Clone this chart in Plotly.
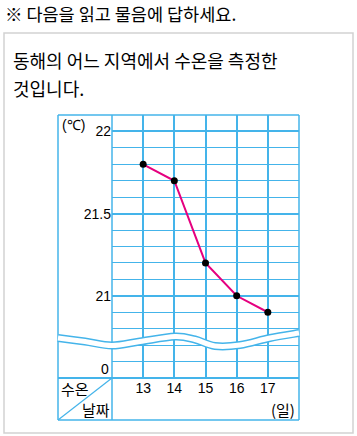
import plotly.graph_objects as go

# ---- data ----
days = [13, 14, 15, 16, 17]
day_labels = ["13", "14", "15", "16", "17"]
temps = [21.8, 21.7, 21.2, 21.0, 20.9]
y_tick_vals = [21, 21.5, 22]
y_tick_labels = ["21", "21.5", "22"]
zero_label = "0"

W, H = 357, 436
L, R, T, B = 112, 58, 115, 58
PW, PH = W - L - R, H - T - B

def px(x):
    return (x - L) / PW

def py(y):
    return (H - B - y) / PH

BLUE = "#44B4EA"
MAG = "#E5007F"
TXT = "#000000"
KR = "Noto Sans CJK KR"
NUM = "Liberation Sans, Arial, sans-serif"

fig = go.Figure()
fig.add_trace(go.Scatter(
    x=days, y=temps, mode="lines+markers",
    line=dict(color=MAG, width=2),
    marker=dict(color="black", size=7),
    hoverinfo="skip", showlegend=False, cliponaxis=False,
))

shapes = []
# outer gray frame
shapes.append(dict(type="rect", xref="paper", yref="paper",
                   x0=px(4), x1=px(353), y0=py(433), y1=py(33),
                   line=dict(color="#d2d2d2", width=1.5), layer="below"))

def hline(y, x0, x1, w=1.5):
    shapes.append(dict(type="line", xref="paper", yref="paper",
                       x0=px(x0), x1=px(x1), y0=py(y), y1=py(y),
                       line=dict(color=BLUE, width=w), layer="above"))

def vline(x, y0, y1, w=1.5):
    shapes.append(dict(type="line", xref="paper", yref="paper",
                       x0=px(x), x1=px(x), y0=py(y0), y1=py(y1),
                       line=dict(color=BLUE, width=w), layer="above"))

hline(115, 58, 299)
hline(378, 58, 299, 2)
hline(420, 58, 299)
vline(58, 115, 420)
vline(112, 115, 420)
vline(299, 115, 420)
shapes.append(dict(type="line", xref="paper", yref="paper",
                   x0=px(112), y0=py(378), x1=px(58), y1=py(420),
                   line=dict(color=BLUE, width=1.2), layer="above"))

# wave break (decoration)
wave_pts = [(58, 338), (85, 341.5), (112, 345.5), (140, 341.5), (175, 336.5),
            (195, 339.5), (215, 346), (240, 345), (270, 338), (299, 333)]

def catmull(pts):
    p = [(px(a), py(b)) for a, b in pts]
    d = f"M {p[0][0]},{p[0][1]}"
    for i in range(len(p) - 1):
        p0 = p[i - 1] if i > 0 else p[i]
        p1 = p[i]
        p2 = p[i + 1]
        p3 = p[i + 2] if i + 2 < len(p) else p[i + 1]
        c1 = (p1[0] + (p2[0] - p0[0]) / 6, p1[1] + (p2[1] - p0[1]) / 6)
        c2 = (p2[0] - (p3[0] - p1[0]) / 6, p2[1] - (p3[1] - p1[1]) / 6)
        d += f" C {c1[0]},{c1[1]} {c2[0]},{c2[1]} {p2[0]},{p2[1]}"
    return d

wp = catmull(wave_pts)
shapes.append(dict(type="path", xref="paper", yref="paper", path=wp,
                   line=dict(color=BLUE, width=8), layer="above"))
shapes.append(dict(type="path", xref="paper", yref="paper", path=wp,
                   line=dict(color="white", width=5), layer="above"))

annotations = [
    dict(text="※ 다음을 읽고 물음에 답하세요.", xref="paper", yref="paper",
         x=px(3), y=py(13), xanchor="left", yanchor="middle", showarrow=False,
         font=dict(family=KR, size=17.5, color=TXT)),
    dict(text="동해의 어느 지역에서 수온을 측정한", xref="paper", yref="paper",
         x=px(11), y=py(60), xanchor="left", yanchor="middle", showarrow=False,
         font=dict(family=KR, size=18, color=TXT)),
    dict(text="것입니다.", xref="paper", yref="paper",
         x=px(11), y=py(88), xanchor="left", yanchor="middle", showarrow=False,
         font=dict(family=KR, size=18, color=TXT)),
    dict(text="(℃)", xref="paper", yref="paper",
         x=px(60), y=py(125), xanchor="left", yanchor="middle", showarrow=False,
         font=dict(family=NUM, size=14, color=TXT)),
    dict(text=zero_label, xref="paper", yref="y",
         x=px(110), y=20.5, xanchor="right", yanchor="bottom", showarrow=False,
         font=dict(family=NUM, size=14, color=TXT), borderpad=0),
    dict(text="수온", xref="paper", yref="paper",
         x=px(75), y=py(388), xanchor="center", yanchor="middle", showarrow=False,
         font=dict(family=KR, size=15, color=TXT)),
    dict(text="날짜", xref="paper", yref="paper",
         x=px(96), y=py(409), xanchor="center", yanchor="middle", showarrow=False,
         font=dict(family=KR, size=15, color=TXT)),
    dict(text="(일)", xref="paper", yref="paper",
         x=px(283), y=py(409), xanchor="center", yanchor="middle", showarrow=False,
         font=dict(family=KR, size=15, color=TXT)),
]

fig.update_layout(
    width=W, height=H,
    margin=dict(l=L, r=R, t=T, b=B, pad=0),
    paper_bgcolor="white", plot_bgcolor="white",
    showlegend=False,
    shapes=shapes, annotations=annotations,
    xaxis=dict(range=[12, 18], tickvals=days, ticktext=day_labels,
               showgrid=True, gridcolor=BLUE, gridwidth=1.5,
               zeroline=False, showline=False, ticks="",
               tickfont=dict(family=NUM, size=14, color=TXT), fixedrange=True),
    yaxis=dict(range=[20.5, 22.1], tickvals=y_tick_vals, ticktext=y_tick_labels,
               showgrid=True, gridcolor=BLUE, gridwidth=2.2,
               zeroline=False, showline=False, ticks="",
               tickfont=dict(family=NUM, size=14, color=TXT), fixedrange=True,
               minor=dict(tick0=20.5, dtick=0.1, showgrid=True,
                          gridcolor=BLUE, gridwidth=1.4, ticks="")),
)

fig.write_html(
    "out.html",
    config={"displayModeBar": False},
    post_script="document.body.style.margin='0';document.body.style.overflow='hidden';",
)
